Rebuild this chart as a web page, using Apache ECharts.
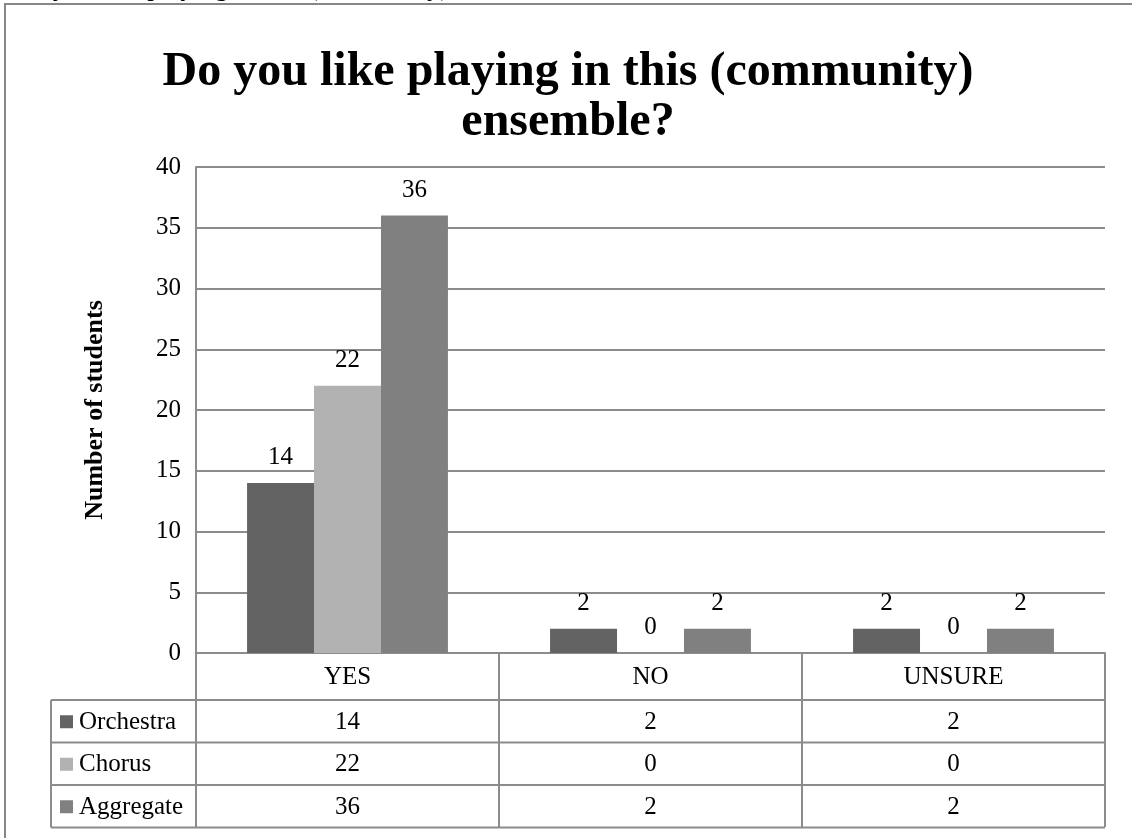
<!DOCTYPE html>
<html>
<head>
<meta charset="utf-8">
<script src="https://cdn.jsdelivr.net/npm/echarts@6/dist/echarts.min.js"></script>
<style>
html,body{margin:0;padding:0;background:#fff;}
#chart{width:1132px;height:838px;}
</style>
</head>
<body>
<div id="chart"></div>
<script>
var categories = ['YES', 'NO', 'UNSURE'];
var seriesNames = ['Orchestra', 'Chorus', 'Aggregate'];
var orchestra = [14, 2, 2];
var chorus = [22, 0, 0];
var aggregate = [36, 2, 2];
var yTicks = [0, 5, 10, 15, 20, 25, 30, 35, 40];
var titleText = 'Do you like playing in this (community)\nensemble?';
var yAxisTitle = 'Number of students';

var colors = ['#636363', '#b2b2b2', '#808080'];
var FONT = 'Liberation Serif, Times New Roman, serif';
var LINE = '#8c8c8c';
var FS = 25;

var chart = echarts.init(document.getElementById('chart'), null, {renderer: 'canvas'});

var seriesData = [orchestra, chorus, aggregate];
var series = seriesData.map(function (d, i) {
  return {
    name: seriesNames[i],
    type: 'bar',
    data: d,
    barGap: '0%',
    barCategoryGap: '33.7%',
    itemStyle: {color: colors[i]},
    label: {
      show: true,
      position: 'top',
      distance: 13,
      fontFamily: FONT,
      fontSize: FS,
      color: '#000'
    }
  };
});

chart.setOption({
  animation: false,
  backgroundColor: '#fff',
  grid: {left: 196, right: 27, top: 167, bottom: 185, containLabel: false},
  xAxis: {
    type: 'category',
    data: categories,
    axisLine: {show: true, lineStyle: {color: LINE, width: 2}},
    axisTick: {show: true, alignWithLabel: false, length: 174, lineStyle: {color: LINE, width: 2}},
    axisLabel: {fontFamily: FONT, fontSize: FS, color: '#000', margin: 12, interval: 0},
    splitLine: {show: false}
  },
  yAxis: {
    type: 'value',
    min: yTicks[0],
    max: yTicks[yTicks.length - 1],
    interval: yTicks[1] - yTicks[0],
    name: yAxisTitle,
    nameLocation: 'middle',
    nameGap: 88,
    nameTextStyle: {fontFamily: FONT, fontSize: 26, fontWeight: 'bold', color: '#000'},
    axisLine: {show: true, lineStyle: {color: LINE, width: 2}},
    axisTick: {show: false},
    axisLabel: {fontFamily: FONT, fontSize: FS, color: '#000', margin: 15},
    splitLine: {show: true, lineStyle: {color: LINE, width: 2}}
  },
  series: series
});

// Build title, border and data table
var gridRight = 1105;
var tableLeft = 51;
var rowTops = [700, 742.5, 785, 827.5];
var graphics = [];

graphics.push({
  type: 'rect', silent: true,
  shape: {x: 5, y: 4, width: 1150, height: 860},
  style: {fill: 'none', stroke: '#878787', lineWidth: 2}
});
graphics.push({
  type: 'text', silent: true, x: 13, y: 1,
  style: {text: 'Do you like playing in this (community) ensemble?', fontFamily: FONT, fontSize: 27, fill: '#000', verticalAlign: 'bottom', align: 'left'}
});
graphics.push({
  type: 'text', silent: true, x: 568, y: 48,
  style: {text: titleText, fontFamily: FONT, fontSize: 48, fontWeight: 'bold', fill: '#000', align: 'center', verticalAlign: 'top', lineHeight: 50}
});

for (var r = 0; r < rowTops.length; r++) {
  graphics.push({
    type: 'line', silent: true,
    shape: {x1: tableLeft, y1: rowTops[r], x2: gridRight, y2: rowTops[r]},
    style: {stroke: LINE, lineWidth: 2}
  });
}
graphics.push({
  type: 'line', silent: true,
  shape: {x1: tableLeft, y1: rowTops[0], x2: tableLeft, y2: rowTops[rowTops.length - 1]},
  style: {stroke: LINE, lineWidth: 2}
});

for (var s = 0; s < seriesNames.length; s++) {
  var cy = (rowTops[s] + rowTops[s + 1]) / 2;
  graphics.push({
    type: 'rect', silent: true,
    shape: {x: 60, y: cy - 6, width: 13, height: 13},
    style: {fill: colors[s]}
  });
  graphics.push({
    type: 'text', silent: true, x: 79, y: cy + 1,
    style: {text: seriesNames[s], fontFamily: FONT, fontSize: FS, fill: '#000', align: 'left', verticalAlign: 'middle'}
  });
  for (var c = 0; c < categories.length; c++) {
    var px = chart.convertToPixel({xAxisIndex: 0}, categories[c]);
    graphics.push({
      type: 'text', silent: true, x: px, y: cy + 1,
      style: {text: String(seriesData[s][c]), fontFamily: FONT, fontSize: FS, fill: '#000', align: 'center', verticalAlign: 'middle'}
    });
  }
}

chart.setOption({graphic: graphics});
</script>
</body>
</html>
